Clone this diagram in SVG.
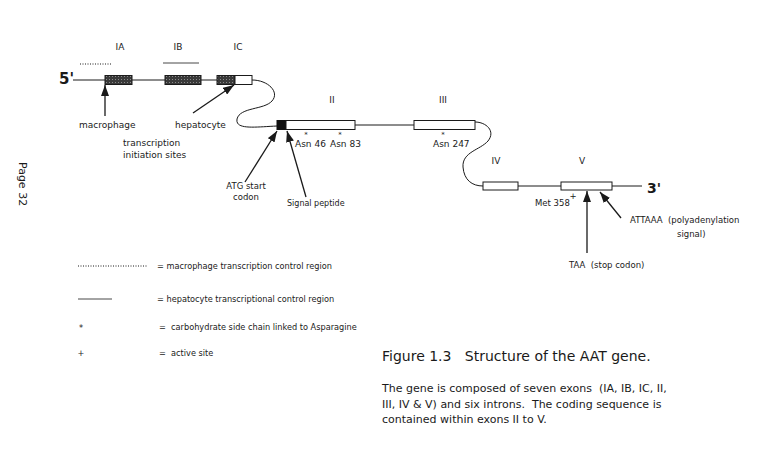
<svg xmlns="http://www.w3.org/2000/svg" width="780" height="471" viewBox="0 0 780 471">
<defs>
<style>
text{font-family:"DejaVu Sans","Liberation Sans",sans-serif;fill:#1a1a1a;white-space:pre}
.lb{font-size:9px}
.sm{font-size:8.5px}
.lg{font-size:8.2px}
.st{font-size:7px}
.ex{stroke:#1a1a1a;stroke-width:1;fill:#fff}
.hx{stroke:#1a1a1a;stroke-width:1;fill:url(#hatch)}
.ln{stroke:#1a1a1a;stroke-width:1;fill:none}
.ar{stroke:#1a1a1a;stroke-width:1.3;fill:none;marker-end:url(#ah)}
</style>
<pattern id="hatch" width="3" height="3" patternUnits="userSpaceOnUse">
<rect width="3" height="3" fill="#3a3a3a"/>
<rect x="1" y="1" width="1" height="1" fill="#8a8a8a"/>
</pattern>
<marker id="ah" viewBox="0 0 11 8" refX="11" refY="4" markerWidth="11" markerHeight="8" orient="auto" markerUnits="userSpaceOnUse">
<path d="M0,0 L11,4 L0,8 z" fill="#1a1a1a"/>
</marker>
</defs>
<rect width="780" height="471" fill="#fff"/>

<text x="22" y="162" transform="rotate(90 22 162)" style="font-size:11px" dominant-baseline="middle">Page 32</text>

<g id="connectors">
<line class="ln" x1="73" y1="80" x2="217" y2="80"/>
<path class="ln" d="M252,80 C268,80 280,92 272,101 C264,110 240,107 237,119 C235,130 255,127 277,126"/>
<line class="ln" x1="355" y1="125" x2="414" y2="125"/>
<path class="ln" d="M475,122 C486,122 496,131 488,141 C480,150 462,152 463,167 C464,180 472,186 483,186"/>
<line class="ln" x1="518" y1="186" x2="561" y2="186"/>
<line class="ln" x1="612" y1="186" x2="642" y2="186"/>
<line class="ar" x1="105" y1="116" x2="105" y2="85"/>
<line class="ar" x1="193" y1="113" x2="234" y2="85"/>
<line class="ar" x1="245" y1="182" x2="277" y2="131"/>
<line class="ar" x1="306" y1="197" x2="287" y2="131"/>
<line class="ar" x1="587" y1="253" x2="587" y2="191"/>
<line class="ar" x1="621" y1="218" x2="600" y2="192"/>
</g>

<g id="exon-IA">
<rect class="hx" x="105" y="75.5" width="27" height="9"/>
<text class="lb" x="120" y="50" text-anchor="middle">IA</text>
<line x1="80" y1="64" x2="112" y2="64" stroke="#1a1a1a" stroke-width="1" stroke-dasharray="1 1.5"/>
</g>
<g id="exon-IB">
<rect class="hx" x="165" y="75.5" width="36" height="9"/>
<text class="lb" x="178" y="50" text-anchor="middle">IB</text>
<line x1="163" y1="63" x2="199" y2="63" stroke="#1a1a1a" stroke-width="0.8"/>
</g>
<g id="exon-IC">
<rect class="hx" x="217" y="75.5" width="18" height="9"/>
<rect class="ex" x="235" y="75.5" width="17" height="9"/>
<text class="lb" x="238" y="50" text-anchor="middle">IC</text>
</g>
<g id="exon-II">
<rect x="277" y="120.5" width="9" height="9" fill="#111" stroke="#111"/>
<rect class="ex" x="286" y="120.5" width="69" height="9"/>
<text class="lb" x="332" y="103" text-anchor="middle">II</text>
<text class="st" x="306" y="136.5" text-anchor="middle">*</text>
<text class="st" x="340" y="136.5" text-anchor="middle">*</text>
<text class="lb" x="295" y="147">Asn 46</text>
<text class="lb" x="330" y="147">Asn 83</text>
</g>
<g id="exon-III">
<rect class="ex" x="414" y="120.5" width="61" height="9"/>
<text class="lb" x="443" y="103" text-anchor="middle">III</text>
<text class="st" x="443" y="136.5" text-anchor="middle">*</text>
<text class="lb" x="433" y="147">Asn 247</text>
</g>
<g id="exon-IV">
<rect class="ex" x="483" y="182" width="35" height="8"/>
<text class="lb" x="496" y="164" text-anchor="middle">IV</text>
</g>
<g id="exon-V">
<rect class="ex" x="561" y="182" width="51" height="8"/>
<text class="lb" x="582" y="164" text-anchor="middle">V</text>
<text class="sm" x="573" y="199" text-anchor="middle">+</text>
<text class="sm" x="535" y="206">Met 358</text>
</g>

<g id="ends">
<text x="59" y="84" style="font-size:15px;font-weight:bold">5'</text>
<text x="647" y="193" style="font-size:14px;font-weight:bold">3'</text>
</g>

<g id="labels">
<text class="lb" x="79" y="128">macrophage</text>
<text class="lb" x="175" y="128">hepatocyte</text>
<text class="lb" x="123" y="146">transcription</text>
<text class="lb" x="123" y="158">initiation sites</text>
<text class="sm" x="246" y="189" text-anchor="middle">ATG start</text>
<text class="sm" x="246" y="200" text-anchor="middle">codon</text>
<text class="lb" x="287" y="206" style="font-size:8px">Signal peptide</text>
<text class="sm" x="630" y="223">ATTAAA  (polyadenylation</text>
<text class="sm" x="677" y="237">signal)</text>
<text class="sm" x="569" y="268">TAA  (stop codon)</text>
</g>

<g id="legend">
<line x1="78" y1="266" x2="148" y2="266" stroke="#1a1a1a" stroke-width="1" stroke-dasharray="1 1.5"/>
<text class="lg" x="157" y="269">= macrophage transcription control region</text>
<line x1="78" y1="299" x2="112" y2="299" stroke="#1a1a1a" stroke-width="0.8"/>
<text class="lg" x="157" y="302">= hepatocyte transcriptional control region</text>
<text class="lg" x="81" y="331" text-anchor="middle">*</text>
<text class="lg" x="159" y="330">=  carbohydrate side chain linked to Asparagine</text>
<text class="lg" x="81" y="356" text-anchor="middle">+</text>
<text class="lg" x="159" y="356">=  active site</text>
</g>

<g id="caption">
<text x="382" y="361" style="font-size:14px">Figure 1.3   Structure of the AAT gene.</text>
<text x="382" y="392" style="font-size:11px">The gene is composed of seven exons  (IA, IB, IC, II,</text>
<text x="382" y="407.5" style="font-size:11px">III, IV &amp; V) and six introns.  The coding sequence is</text>
<text x="382" y="423" style="font-size:11px">contained within exons II to V.</text>
</g>
</svg>
